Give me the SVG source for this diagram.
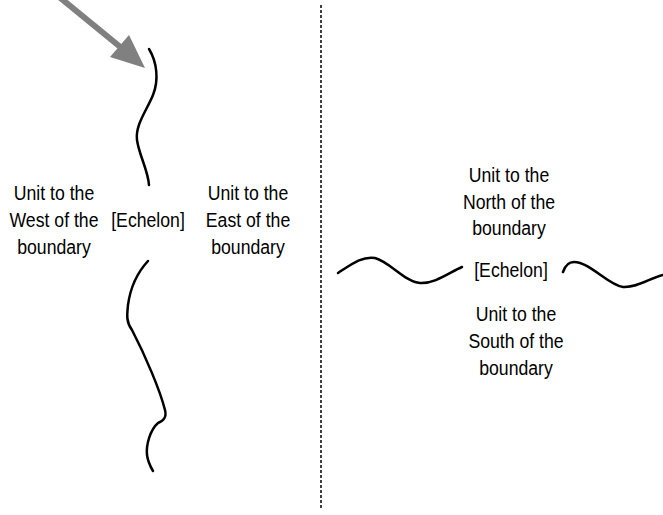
<svg xmlns="http://www.w3.org/2000/svg" width="663" height="515" viewBox="0 0 663 515">
<style>
  .lbl { font-family: "Liberation Sans", Arial, sans-serif; font-size: 19px; fill: #000; text-anchor: middle; }
  .bnd { fill: none; stroke: #000; stroke-width: 2.5; stroke-linecap: round; }
</style>
<rect width="663" height="515" fill="#fff"/>
<g id="connectors">
  <line x1="321" y1="5" x2="321" y2="510" stroke="#000" stroke-width="1.5" stroke-dasharray="3,2"/>
  <g id="arrow">
    <line x1="58" y1="-4" x2="124" y2="50" stroke="#808080" stroke-width="6"/>
    <polygon points="145,68 110,57 129,35" fill="#808080"/>
  </g>
  <path class="bnd" d="M149,49 C157,62 159,80 153,95 C147,110 135,125 137,140 C139,155 148,170 149,185"/>
  <path class="bnd" d="M148,261 C136,274 130,290 128,305 C127,315 126,322 132,330 C145,355 160,390 165,410 C167,418 163,421 158,423 C150,430 146,445 147,455 C148,462 150,466 153,471"/>
  <path class="bnd" d="M338,273 C352,264 362,256 375,258 C390,262 405,282 420,283 C435,284 450,272 462,267"/>
  <path class="bnd" d="M563,272 C565,266 568,262 574,262 C590,262 608,285 623,287 C637,288 650,278 663,275"/>
</g>
<g id="west">
  <text class="lbl" transform="translate(54,200) scale(0.93,1.03)">Unit to the</text>
  <text class="lbl" transform="translate(54,227) scale(0.93,1.03)">West of the</text>
  <text class="lbl" transform="translate(54,254) scale(0.93,1.03)">boundary</text>
</g>
<g id="echelon-left">
  <text class="lbl" transform="translate(148,227) scale(0.93,1.03)">[Echelon]</text>
</g>
<g id="east">
  <text class="lbl" transform="translate(248,200) scale(0.93,1.03)">Unit to the</text>
  <text class="lbl" transform="translate(248,227) scale(0.93,1.03)">East of the</text>
  <text class="lbl" transform="translate(248,254) scale(0.93,1.03)">boundary</text>
</g>
<g id="north">
  <text class="lbl" transform="translate(509,182) scale(0.93,1.03)">Unit to the</text>
  <text class="lbl" transform="translate(509,208.5) scale(0.93,1.03)">North of the</text>
  <text class="lbl" transform="translate(509,235) scale(0.93,1.03)">boundary</text>
</g>
<g id="echelon-right">
  <text class="lbl" transform="translate(511,277) scale(0.93,1.03)">[Echelon]</text>
</g>
<g id="south">
  <text class="lbl" transform="translate(516,321) scale(0.93,1.03)">Unit to the</text>
  <text class="lbl" transform="translate(516,348) scale(0.93,1.03)">South of the</text>
  <text class="lbl" transform="translate(516,375) scale(0.93,1.03)">boundary</text>
</g>
</svg>
